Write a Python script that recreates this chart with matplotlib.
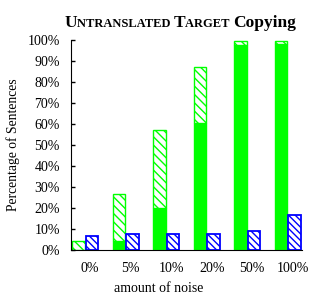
import numpy as np
import matplotlib
matplotlib.use("Agg")
import matplotlib.pyplot as plt

# values (fractions of sentences)
noise = ["0%", "5%", "10%", "20%", "50%", "100%"]
green_solid = [0.0, 0.043, 0.20, 0.605, 0.975, 0.98]
green_total = [0.043, 0.265, 0.572, 0.87, 0.995, 0.995]
blue = [0.067, 0.075, 0.075, 0.078, 0.092, 0.165]
yticks = np.arange(0, 1.01, 0.1)

plt.rcParams["font.family"] = ["Liberation Serif", "DejaVu Serif"]
plt.rcParams["hatch.linewidth"] = 1.0

fig = plt.figure(figsize=(3.21, 3.00), dpi=100)
ax = fig.add_axes([71 / 321, 50 / 300, 231 / 321, 210 / 300])

x = np.arange(len(noise))
w = 0.31
green_top = [t - s for s, t in zip(green_solid, green_total)]
ax.bar(x - w / 2 - 0.01, green_solid, w, color="#00ff00", edgecolor="#00ff00", linewidth=1)
ax.bar(x - w / 2 - 0.01, green_top, w, bottom=green_solid, color="white",
       edgecolor="#00ff00", hatch="\\\\\\\\", linewidth=1)
ax.bar(x + w / 2 + 0.01, blue, w, color="white", edgecolor="#0000ff",
       hatch="\\\\\\\\\\", linewidth=1.3)

ax.set_xlim(-0.35, 5.35)
ax.set_ylim(0, 1.0)
ax.set_yticks(yticks)
ax.set_yticklabels([f"{int(round(v * 100))}%" for v in yticks], fontsize=10)
ax.set_xticks(x + 0.12)
ax.set_xticklabels(noise, fontsize=10)
ax.tick_params(axis="y", direction="in", length=3, width=1, pad=8)
ax.tick_params(axis="x", length=0, pad=8.5)
for s in ["top", "right"]:
    ax.spines[s].set_visible(False)
ax.set_ylabel("Percentage of Sentences", fontsize=9.8)
ax.yaxis.set_label_coords(-0.22, 0.5)
ax.set_xlabel("amount of noise", fontsize=10)
ax.xaxis.set_label_coords(0.38, -0.15)

# small-caps title built from pieces
pieces = [("U", 12.5), ("NTRANSLATED ", 9), ("T", 12.5), ("ARGET ", 9), ("Copying", 12.5)]
renderer = fig.canvas.get_renderer()
texts = []
for s, size in pieces:
    t = fig.text(0, 0, s, fontsize=size, fontweight="bold", va="baseline", ha="left")
    texts.append(t)
widths = [t.get_window_extent(renderer).width for t in texts]
start = 180 - sum(widths) / 2
for t, wd in zip(texts, widths):
    t.set_position((start / 321, 1 - 27 / 300))
    start += wd

fig.savefig("out.png", dpi=100)
